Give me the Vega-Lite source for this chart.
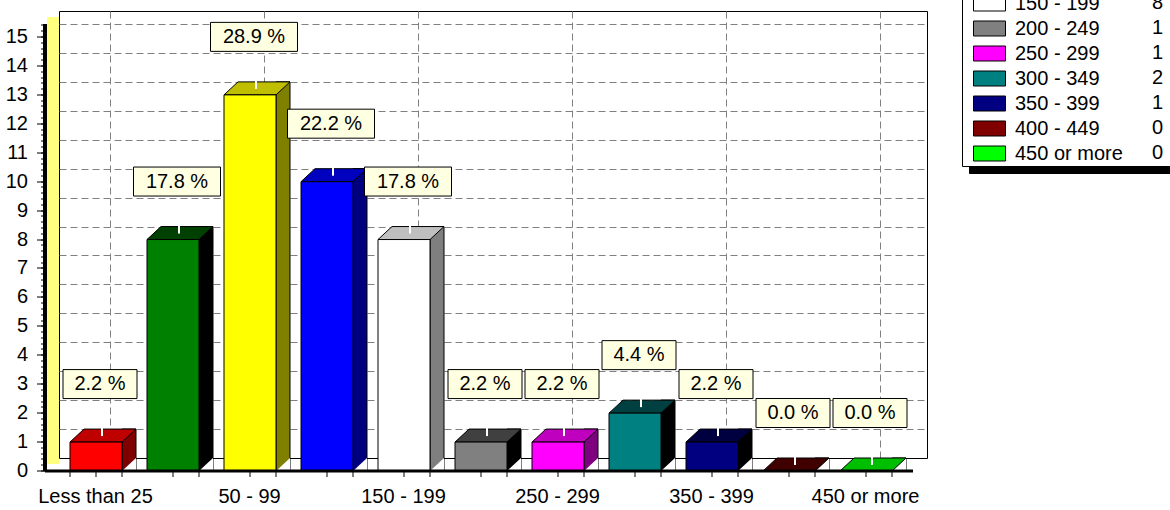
{
  "$schema": "https://vega.github.io/schema/vega-lite/v6.json",
  "width": 868,
  "height": 447,
  "autosize": {"type": "none"},
  "padding": {"left": 59, "top": 11, "right": 243, "bottom": 52},
  "background": "white",
  "config": {
    "view": {"stroke": "black", "strokeWidth": 1, "fill": "white"},
    "font": "Liberation Sans",
    "axis": {"labelFont": "Liberation Sans", "labelFontSize": 20, "labelColor": "black", "tickColor": "black", "domainColor": "black", "labelOverlap": false, "titlePadding": 0}
  },
  "datasets": {
    "bins": [
      {"cat": "Less than 25", "n": 1, "label": "2.2 %"},
      {"cat": "25 - 49", "n": 8, "label": "17.8 %"},
      {"cat": "50 - 99", "n": 13, "label": "28.9 %"},
      {"cat": "100 - 149", "n": 10, "label": "22.2 %"},
      {"cat": "150 - 199", "n": 8, "label": "17.8 %"},
      {"cat": "200 - 249", "n": 1, "label": "2.2 %"},
      {"cat": "250 - 299", "n": 1, "label": "2.2 %"},
      {"cat": "300 - 349", "n": 2, "label": "4.4 %"},
      {"cat": "350 - 399", "n": 1, "label": "2.2 %"},
      {"cat": "400 - 449", "n": 0, "label": "0.0 %"},
      {"cat": "450 or more", "n": 0, "label": "0.0 %"}
    ]
  },
  "data": {"name": "bins"},
  "encoding": {
    "x": {"field": "cat", "type": "nominal", "sort": null, "scale": {"paddingInner": 0.32468, "paddingOuter": 0.2987, "align": 0.5435, "round": false}, "axis": null},
    "y": {"field": "n", "type": "quantitative", "scale": {"domain": [0, 15.45], "nice": false, "zero": true}, "axis": null}
  },
  "layer": [
    {
      "mark": {"type": "bar", "width": 14, "xOffset": 19, "y2Offset": 13, "stroke": "black", "strokeWidth": 1},
      "encoding": {
        "x": {"field": "cat", "type": "nominal", "sort": null, "axis": {"orient": "bottom", "grid": true, "gridColor": "#808080", "gridDash": [7, 4], "gridWidth": 1, "labels": false, "ticks": false, "domain": false, "values": ["Less than 25", "50 - 99", "150 - 199", "250 - 299", "350 - 399", "450 or more"], "zindex": 0, "title": null}},
        "y": {"field": "n", "type": "quantitative", "axis": {"orient": "left", "grid": true, "gridColor": "#808080", "gridDash": [7, 4], "gridWidth": 1, "labels": false, "ticks": false, "domain": false, "values": [1, 2, 3, 4, 5, 6, 7, 8, 9, 10, 11, 12, 13, 14, 15], "zindex": 0, "title": null}},
        "y2": {"datum": 0},
        "fill": {"field": "cat", "type": "nominal", "sort": null, "legend": null, "scale": {"range": ["#7F0000", "#000000", "#7F7F00", "#00007F", "#7F7F7F", "#000000", "#7F007F", "#000000", "#000000", "#000000", "#007F00"]}}
      }
    },
    {
      "mark": {"type": "point", "filled": true, "size": 4, "fill": "white", "strokeWidth": 0, "opacity": 1},
      "encoding": {
        "x": {"field": "cat", "type": "nominal", "sort": null, "axis": {"orient": "bottom", "tickBand": "extent", "labels": false, "domain": false, "grid": false, "ticks": true, "tickSize": 6, "tickColor": "black", "offset": 27, "translate": -14, "zindex": 1, "title": null}},
        "y": {"datum": 0, "type": "quantitative", "axis": {"orient": "left", "domain": true, "domainColor": "#FFFF80", "domainWidth": 12, "offset": 12, "translate": 6, "ticks": false, "labels": false, "grid": false, "zindex": 0, "title": null}},
        "shape": {"field": "cat", "type": "nominal", "sort": null, "scale": {"domain": ["Less than 25", "25 - 49", "50 - 99", "100 - 149", "150 - 199", "200 - 249", "250 - 299", "300 - 349", "350 - 399", "400 - 449", "450 or more"], "range": ["M 12 13 L 26 0 L 26 13 Z"]},
          "legend": {"orient": "none", "legendX": 903, "legendY": -121, "title": null, "symbolSize": 0.04, "symbolOpacity": 0, "labelOffset": 167, "labelFont": "Liberation Sans", "labelFontSize": 20, "labelColor": "black", "rowPadding": 5, "padding": 3, "strokeColor": "black", "fillColor": "white", "zindex": 2,
            "labelExpr": "data('bins')[indexof(pluck(data('bins'), 'cat'), datum.label)].n + ''"}}
      }
    },
    {
      "mark": {"type": "point", "filled": true, "size": 4, "shape": "M -26 0 L 26 0 L 12 13 L -40 13 Z", "stroke": "black", "strokeWidth": 1, "opacity": 1},
      "encoding": {
        "x": {"field": "cat", "type": "nominal", "sort": null, "axis": {"orient": "bottom", "offset": 27, "translate": -14, "domain": true, "domainColor": "black", "domainWidth": 3, "ticks": true, "tickSize": 6, "tickColor": "black", "labelExpr": "indexof(['25 - 49','100 - 149','200 - 249','300 - 349','400 - 449'], datum.label) >= 0 ? '' : datum.label", "labelPadding": 10, "labelAngle": 0, "grid": false, "zindex": 1, "title": null}},
        "y": {"field": "n", "type": "quantitative", "axis": {"orient": "left", "offset": 27, "translate": 13, "domain": true, "domainColor": "black", "domainWidth": 4, "ticks": true, "tickSize": 8, "tickColor": "black", "values": [0, 1, 2, 3, 4, 5, 6, 7, 8, 9, 10, 11, 12, 13, 14, 15], "labelPadding": 9, "grid": false, "zindex": 1, "title": null}},
        "fill": {"field": "cat", "type": "nominal", "sort": null, "legend": null, "scale": {"range": ["#BF0000", "#004000", "#BFBF00", "#0000BF", "#BFBFBF", "#404040", "#BF00BF", "#004040", "#000040", "#400000", "#00BF00"]}}
      }
    },
    {
      "mark": {"type": "bar", "xOffset": -14, "x2Offset": -14, "yOffset": 13, "y2Offset": 13, "stroke": "black", "strokeWidth": 1},
      "encoding": {
        "y": {"field": "n", "type": "quantitative", "axis": {"orient": "left", "offset": 27, "translate": 13, "domain": false, "ticks": true, "tickSize": 4, "tickCount": 78, "labels": false, "grid": false, "zindex": 1, "title": null}},
        "y2": {"datum": 0},
        "fill": {"field": "cat", "type": "nominal", "sort": null, "scale": {"range": ["#FF0000", "#008000", "#FFFF00", "#0000FF", "#FFFFFF", "#808080", "#FF00FF", "#008080", "#000080", "#800000", "#00FF00"]},
          "legend": {"orient": "none", "legendX": 903, "legendY": -121, "title": null, "symbolType": "M -1.6 -0.75 L 1.6 -0.75 L 1.6 0.75 L -1.6 0.75 Z", "symbolSize": 400, "symbolStrokeColor": "black", "symbolStrokeWidth": 1, "symbolOpacity": 1, "symbolOffset": 14, "labelOffset": 15, "labelFont": "Liberation Sans", "labelFontSize": 20, "labelColor": "black", "rowPadding": 4, "padding": 3, "zindex": 3}}
      }
    },
    {
      "mark": {"type": "rule", "color": "white", "strokeWidth": 2, "xOffset": -8, "yOffset": -30, "y2Offset": 7},
      "encoding": {
        "y2": {"field": "n"}
      }
    },
    {
      "mark": {"type": "point", "filled": true, "size": 4, "fill": "#FFFFE1", "stroke": "black", "strokeWidth": 1, "opacity": 1, "xOffset": -10, "yOffset": -45},
      "encoding": {
        "shape": {"condition": {"test": "length(datum.label) > 5", "value": "M -43.5 -14.5 L 43.5 -14.5 L 43.5 14.5 L -43.5 14.5 Z"}, "value": "M -37 -14.5 L 37 -14.5 L 37 14.5 L -37 14.5 Z"}
      }
    },
    {
      "mark": {"type": "text", "font": "Liberation Sans", "fontSize": 20, "color": "black", "align": "center", "baseline": "middle", "xOffset": -10, "yOffset": -45},
      "encoding": {
        "text": {"field": "label"},
        "opacity": {"field": "n", "type": "ordinal", "scale": {"type": "ordinal", "range": [1]},
          "legend": {"orient": "none", "legendX": 910, "legendY": -114, "title": null, "symbolSize": 4, "symbolOpacity": 0, "labelOpacity": 0, "labelOffset": 167, "labelFontSize": 20, "rowPadding": 30, "padding": 3, "strokeColor": "black", "fillColor": "black", "zindex": 1}}
      }
    }
  ],
  "resolve": {"scale": {"fill": "independent"}, "axis": {"x": "independent", "y": "independent"}}
}
